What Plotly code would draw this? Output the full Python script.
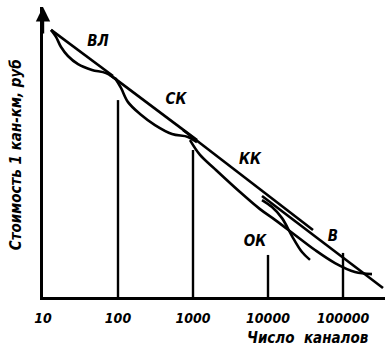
import plotly.graph_objects as go

# ---- data (cost in arbitrary units) ----
tick_vals = [10, 100, 1000, 10000, 100000]
tick_text = ["10", "100", "1000", "10000", "100000"]

# ВЛ
vl_line_n = [12.8, 85.8]
vl_line_c = [92.1, 76.2]
vl_curve_n = [12.8, 14.9, 17.4, 21.5, 29.3, 45.0, 69.2, 97.0]
vl_curve_c = [92.1, 89.7, 86.2, 83.1, 80.3, 78.3, 77.2, 74.8]
# СК
sk_line_n = [78.2, 1131]
sk_line_c = [76.6, 54.1]
sk_curve_n = [91.2, 109.6, 136, 196.6, 311, 525, 858, 1131]
sk_curve_c = [75.5, 72.1, 67.2, 63.1, 59.3, 56.2, 55.2, 53.4]
# КК
kk_line_n = [736, 39800]
kk_line_c = [57.6, 23.1]
kk_curve_n = [912, 1240, 1966, 4233, 7823, 12400, 22900, 42330, 78230, 144500, 243600]
kk_curve_c = [54.1, 49.0, 44.1, 36.2, 30.3, 26.6, 21.4, 16.2, 11.7, 8.6, 7.9]
# ОК
ok_curve_n = [8318, 11310, 15370, 20890, 28400, 36300]
ok_curve_c = [33.4, 31.0, 27.2, 21.0, 15.5, 12.8]
# В
v_line_n = [8318, 341500]
v_line_c = [34.8, 3.1]

# vertical drop lines at decades
drop_n = [100, 1000, 10000, 100000]
drop_top = [67.9, 50.7, 14.5, 15.2]

labels = ["ВЛ", "СК", "КК", "ОК", "В"]
label_n = [54, 593, 5750, 6710, 73500]
label_c = [87.9, 67.9, 47.2, 19.0, 20.7]

FONT = "DejaVu Sans Condensed, Liberation Sans Narrow, DejaVu Sans"
LW = 2.6

fig = go.Figure()

def add(xs, ys, w=LW):
    fig.add_trace(go.Scatter(x=xs, y=ys, mode="lines",
                             line=dict(color="black", width=w, shape="spline"),
                             hoverinfo="skip", showlegend=False))

for xs, ys in [(vl_line_n, vl_line_c), (vl_curve_n, vl_curve_c),
               (sk_line_n, sk_line_c), (sk_curve_n, sk_curve_c),
               (kk_line_n, kk_line_c), (kk_curve_n, kk_curve_c),
               (ok_curve_n, ok_curve_c), (v_line_n, v_line_c)]:
    add(xs, ys)

for n, top in zip(drop_n, drop_top):
    add([n, n], [0, top], w=2.4)

fig.add_trace(go.Scatter(x=label_n, y=label_c, mode="text", text=labels,
                         textfont=dict(family=FONT, size=15, color="black",
                                       weight="bold", style="italic"),
                         hoverinfo="skip", showlegend=False))

# arrow on y axis
fig.add_annotation(xref="paper", yref="paper", x=0, y=1.0, ax=0, ay=28,
                   showarrow=True, arrowhead=2, arrowsize=1.2, arrowwidth=2.4,
                   arrowcolor="black", text="")

fig.add_annotation(xref="paper", yref="paper", x=-0.078, y=0.49,
                   xanchor="center", yanchor="middle",
                   text="Стоимость 1 кан-км, руб", textangle=-90, showarrow=False,
                   font=dict(family=FONT, size=15, color="black", weight="bold", style="italic"))
fig.add_annotation(xref="paper", yref="paper", x=0.775, y=-0.142,
                   xanchor="center", yanchor="middle",
                   text="Число  каналов", showarrow=False,
                   font=dict(family=FONT, size=15, color="black", weight="bold", style="italic"))

fig.update_xaxes(type="log", range=[1, 5.56], showgrid=False, zeroline=False,
                 showline=True, linecolor="black", linewidth=2.6, automargin=False,
                 tickvals=tick_vals, ticktext=tick_text, ticks="", ticklabelstandoff=6,
                 tickfont=dict(family=FONT, size=14, color="black", weight="bold", style="italic"))
fig.update_yaxes(range=[0, 100], showgrid=False, zeroline=False, automargin=False,
                 showline=True, linecolor="black", linewidth=2.6,
                 showticklabels=False, ticks="")

fig.update_layout(width=387, height=353, margin=dict(l=43, r=2, t=7, b=56),
                  paper_bgcolor="white", plot_bgcolor="white")

fig.write_html("out.html", config={"displayModeBar": False},
               post_script="document.body.style.margin='0';document.body.style.overflow='hidden';")
